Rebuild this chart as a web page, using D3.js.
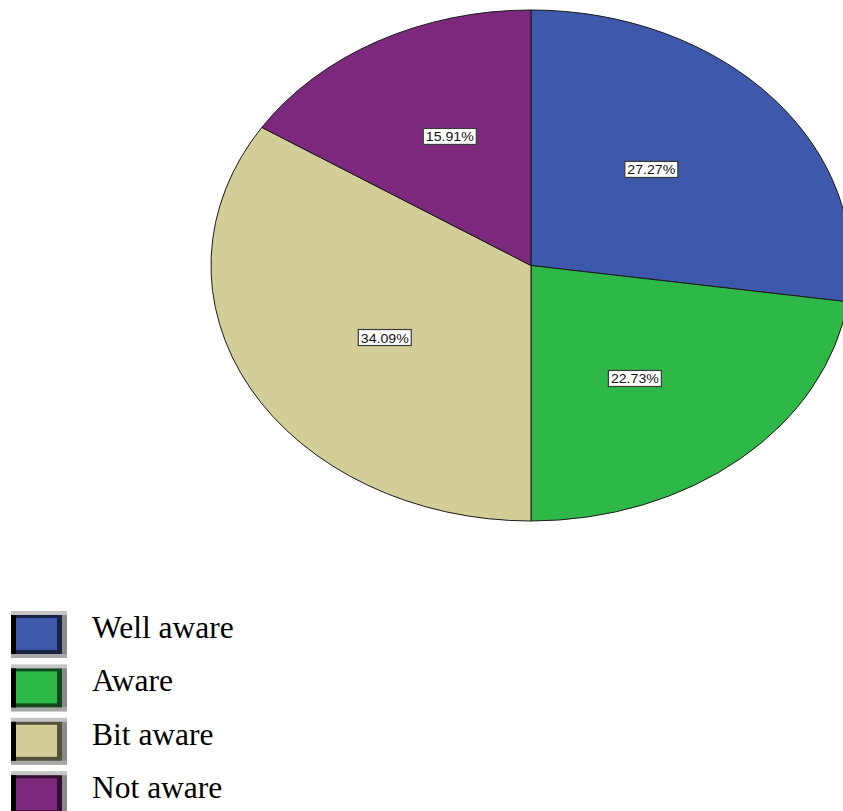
<!DOCTYPE html>
<html>
<head>
<meta charset="utf-8">
<script src="https://cdn.jsdelivr.net/npm/d3@7"></script>
<style>
  html, body { margin: 0; padding: 0; background: #fff; }
  svg { display: block; }
</style>
</head>
<body>
<svg id="chart" width="843" height="811"></svg>
<script>
// Awareness levels and their shares (percent)
const categories = ["Well aware", "Aware", "Bit aware", "Not aware"];
const percents = [27.27, 22.73, 34.09, 15.91];
const colors = ["#3E58AC", "#2EB848", "#D3CE97", "#7C287D"];

const svg = d3.select("#chart");

// Elliptical pie geometry
const cx = 531, cy = 265.5, rx = 320, ry = 255.5;

const pie = d3.pie().sort(null).value(d => d.value).startAngle(0).endAngle(2 * Math.PI);
const arcs = pie(categories.map((c, i) => ({ name: c, value: percents[i], color: colors[i] })));

const arc = d3.arc().innerRadius(0).outerRadius(ry);

const pieG = svg.append("g")
  .attr("transform", `translate(${cx},${cy}) scale(${rx / ry},1)`);

pieG.selectAll("path")
  .data(arcs)
  .join("path")
  .attr("d", arc)
  .attr("fill", d => d.data.color)
  .attr("stroke", "#1a1a1a")
  .attr("stroke-width", 1)
  .attr("vector-effect", "non-scaling-stroke");

// Percentage labels in white boxes
const fmt = d => d.toFixed(2) + "%";
const fx = 0.51, fy = 0.58;
const labelG = svg.append("g");
arcs.forEach(d => {
  const a = (d.startAngle + d.endAngle) / 2;
  const x = cx + rx * fx * Math.sin(a) - 3;
  const y = cy - ry * fy * Math.cos(a) + 1;
  const g = labelG.append("g").attr("transform", `translate(${x},${y})`);
  g.append("rect")
    .attr("x", -26.5)
    .attr("y", -8)
    .attr("width", 53)
    .attr("height", 16)
    .attr("fill", "#fff")
    .attr("stroke", "#3a3a3a")
    .attr("stroke-width", 1.2);
  g.append("text")
    .attr("x", -24)
    .attr("y", 5)
    .attr("textLength", 48)
    .attr("lengthAdjust", "spacingAndGlyphs")
    .attr("font-family", "Liberation Sans, Arial, sans-serif")
    .attr("font-size", 13.5)
    .attr("fill", "#111")
    .text(fmt(d.data.value));
});

// Legend
const legendTop = 611, legendStep = 53.4;
const legend = svg.append("g");
categories.forEach((c, i) => {
  const y0 = legendTop + i * legendStep;
  const g = legend.append("g").attr("transform", `translate(11,${y0})`);
  // outer bevel frame
  g.append("rect").attr("x", 0).attr("y", 0).attr("width", 56).attr("height", 47).attr("fill", "#c4c4c4");
  g.append("rect").attr("x", 51).attr("y", 4).attr("width", 5).attr("height", 39).attr("fill", "#8a8a8a");
  g.append("rect").attr("x", 0).attr("y", 43).attr("width", 56).attr("height", 4).attr("fill", "#a8a8a8");
  // dark inner frame
  g.append("rect").attr("x", 0).attr("y", 4).attr("width", 51).attr("height", 39)
    .attr("fill", d3.color(colors[i]).darker(2.6));
  g.append("rect").attr("x", 0).attr("y", 4).attr("width", 5).attr("height", 39).attr("fill", "#000");
  // swatch colour
  g.append("rect").attr("x", 5).attr("y", 7).attr("width", 41).attr("height", 32).attr("fill", colors[i]);
  legend.append("text")
    .attr("x", 92)
    .attr("y", y0 + 27)
    .attr("font-family", "Liberation Serif, Times New Roman, serif")
    .attr("font-size", 31.5)
    .attr("fill", "#000")
    .text(c);
});
</script>
</body>
</html>
